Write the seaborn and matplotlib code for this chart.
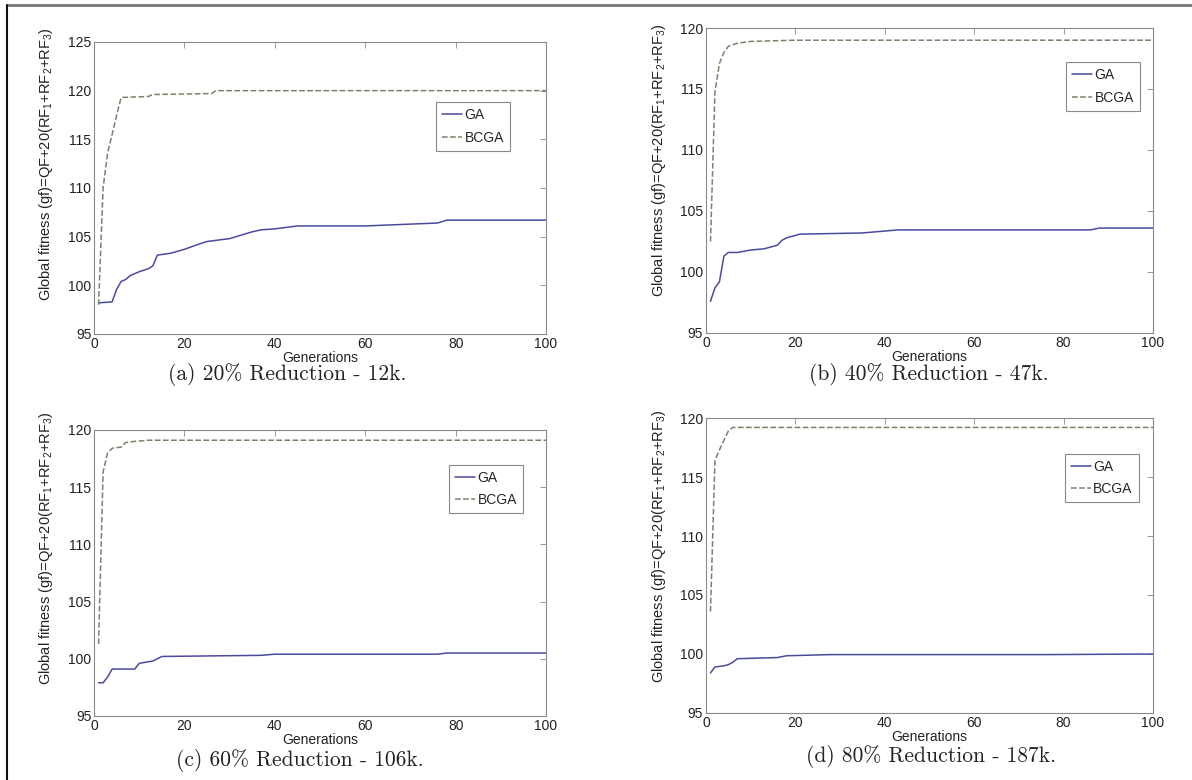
import numpy as np
import pandas as pd
import matplotlib
matplotlib.use('Agg')
import matplotlib.pyplot as plt
from matplotlib.lines import Line2D
import seaborn as sns

# Values (generation -> global fitness)
ga_a_gen = [1, 4, 5, 6, 7, 8, 10, 12, 13, 14, 17, 20, 23, 25, 30, 35, 37, 40, 45, 60, 76, 78, 100]
ga_a_val = [98.2, 98.3, 99.6, 100.4, 100.6, 101.0, 101.4, 101.7, 102.0, 103.1, 103.3, 103.7, 104.2,
            104.5, 104.8, 105.5, 105.7, 105.8, 106.1, 106.1, 106.4, 106.7, 106.7]
bcga_a_gen = [1, 2, 3, 4, 5, 6, 12, 13, 26, 27, 100]
bcga_a_val = [98.0, 110.0, 113.6, 115.5, 117.5, 119.3, 119.4, 119.6, 119.7, 120.0, 120.0]

ga_b_gen = [1, 2, 3, 4, 5, 7, 10, 13, 14, 16, 17, 18, 20, 21, 35, 43, 86, 88, 100]
ga_b_val = [97.6, 98.7, 99.2, 101.3, 101.6, 101.6, 101.8, 101.9, 102.0, 102.2, 102.6, 102.8, 103.0,
            103.1, 103.2, 103.45, 103.45, 103.6, 103.6]
bcga_b_gen = [1, 2, 3, 4, 5, 7, 10, 20, 100]
bcga_b_val = [102.5, 114.8, 117.1, 118.0, 118.5, 118.75, 118.9, 119.0, 119.0]

ga_c_gen = [1, 2, 3, 4, 9, 10, 13, 14, 15, 37, 40, 76, 78, 100]
ga_c_val = [97.9, 97.9, 98.4, 99.1, 99.1, 99.6, 99.8, 100.0, 100.2, 100.3, 100.4, 100.4, 100.5, 100.5]
bcga_c_gen = [1, 2, 3, 4, 6, 7, 9, 12, 100]
bcga_c_val = [101.3, 116.3, 118.0, 118.4, 118.5, 118.9, 119.0, 119.1, 119.1]

ga_d_gen = [1, 2, 4, 5, 6, 7, 16, 18, 28, 77, 100]
ga_d_val = [98.4, 98.9, 99.0, 99.1, 99.3, 99.6, 99.7, 99.85, 99.95, 99.95, 100.0]
bcga_d_gen = [1, 2, 3, 4, 5, 6, 100]
bcga_d_val = [103.6, 116.4, 117.3, 118.1, 118.9, 119.2, 119.2]

captions = ['(a) 20% Reduction - 12k.', '(b) 40% Reduction - 47k.',
            '(c) 60% Reduction - 106k.', '(d) 80% Reduction - 187k.']
y_tops = [125, 120, 120, 120]
x_ticks = [0, 20, 40, 60, 80, 100]

sns.set_style('white')
plt.rcParams['font.family'] = ['Liberation Sans', 'DejaVu Sans']
plt.rcParams['mathtext.fontset'] = 'custom'
plt.rcParams['mathtext.rm'] = 'Liberation Sans'
plt.rcParams['mathtext.it'] = 'Liberation Sans:italic'

fig = plt.figure(figsize=(11.92, 7.8), dpi=100)

# axes boxes [left, bottom, width, height] in figure fractions
boxes = [[0.0789, 0.5718, 0.3792, 0.3744],
         [0.5923, 0.5731, 0.3750, 0.3910],
         [0.0789, 0.0821, 0.3792, 0.3667],
         [0.5923, 0.0859, 0.3750, 0.3782]]
legend_anchor = [(0.936, 0.818), (0.987, 0.911), (0.965, 0.903), (0.984, 0.903)]
ylabel_pos = [(-0.086, 0.58), (-0.085, 0.567), (-0.086, 0.586), (-0.085, 0.565)]
caption_pos = [(0.2408, 0.5195), (0.779, 0.5195), (0.2517, 0.0256), (0.781, 0.0295)]

series = [(ga_a_gen, ga_a_val, bcga_a_gen, bcga_a_val),
          (ga_b_gen, ga_b_val, bcga_b_gen, bcga_b_val),
          (ga_c_gen, ga_c_val, bcga_c_gen, bcga_c_val),
          (ga_d_gen, ga_d_val, bcga_d_gen, bcga_d_val)]

ga_color = '#4b4b9e'
bcga_color = '#76846a'
frame_color = '#8a8a8a'

for i, (gg, gv, bg, bv) in enumerate(series):
    ax = fig.add_axes(boxes[i])
    sns.lineplot(x=gg, y=gv, ax=ax, color=ga_color, linewidth=1.1, label='GA')
    sns.lineplot(x=bg, y=bv, ax=ax, color=bcga_color, linewidth=1.1, linestyle='--', label='BCGA')

    ax.set_xlim(0, 100)
    ax.set_ylim(95, y_tops[i])
    ax.set_xticks(x_ticks)
    ax.set_yticks(np.arange(95, y_tops[i] + 1, 5))
    ax.tick_params(direction='in', length=4, width=0.6, color=frame_color,
                   top=True, right=True, labelsize=10, pad=2, labelcolor='#222222')
    for sp in ax.spines.values():
        sp.set_color(frame_color)
        sp.set_linewidth(0.8)

    ax.set_xlabel('Generations', fontsize=10, labelpad=0, color='#222222')
    ax.set_ylabel('Global fitness (gf)=QF+20(RF$_1$+RF$_2$+RF$_3$)', fontsize=10.5, color='#222222')
    ax.yaxis.set_label_coords(*ylabel_pos[i])

    leg = ax.legend(loc='upper right', bbox_to_anchor=legend_anchor[i], fontsize=10,
                    handlelength=1.4, handletextpad=0.2, fancybox=False,
                    borderpad=0.45, labelspacing=0.6, framealpha=1)
    leg.get_frame().set_edgecolor(frame_color)
    leg.get_frame().set_linewidth(0.8)

    fig.text(caption_pos[i][0], caption_pos[i][1], captions[i], ha='center', va='center',
             fontsize=15.5, family=['cmr10', 'DejaVu Serif'], color='#222222')

# page frame: gray top rule and black left rule
fig.add_artist(Line2D([7 / 1192, 1], [1 - 5 / 780, 1 - 5 / 780], color='#777777', linewidth=2))
fig.add_artist(Line2D([7 / 1192, 7 / 1192], [0, 1 - 5 / 780], color='#111111', linewidth=1.5))

fig.savefig('out.png', dpi=100)
